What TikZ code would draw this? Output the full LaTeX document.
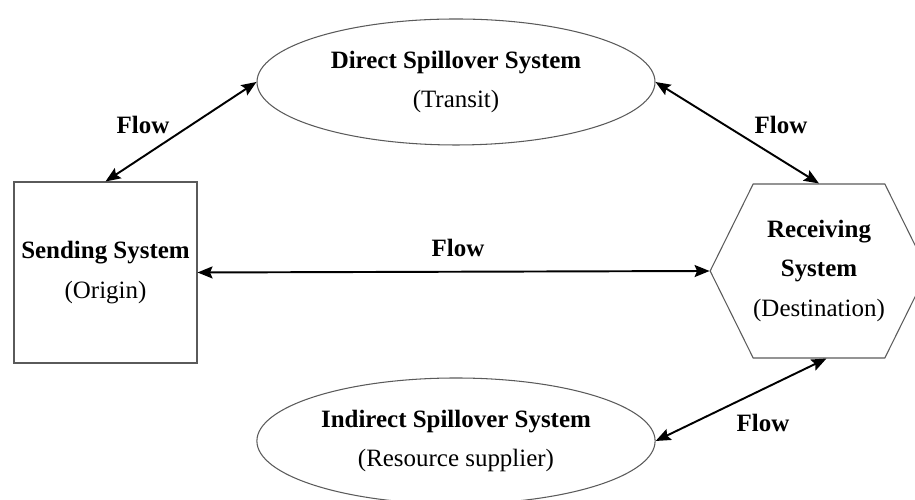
\documentclass[tikz,border=0pt]{standalone}
\usepackage{fontspec}
\setmainfont{Liberation Serif}
\usepackage{tikz}
\usetikzlibrary{shapes.geometric, shapes.symbols, arrows, arrows.meta, positioning}
\definecolor{edgecolor}{RGB}{90, 90, 90}
\tikzstyle{sysbox} = [rectangle, minimum width=3.66cm, minimum height=3.62cm, align=center, draw=edgecolor, line width=0.6pt, font=\fontsize{14.2}{22.5}\selectfont]
\tikzstyle{spill} = [ellipse, minimum width=7.96cm, minimum height=2.52cm, align=center, draw=edgecolor, line width=0.6pt, font=\fontsize{14.2}{22.5}\selectfont]
\tikzstyle{hexa} = [signal, signal to=east and west, signal pointer angle=127.4, minimum width=4.28cm, minimum height=3.48cm, inner xsep=0pt, align=center, draw=edgecolor, line width=0.6pt, font=\fontsize{14.2}{22.5}\selectfont]
\tikzstyle{flowlabel} = [font=\fontsize{14.2}{16}\selectfont\bfseries]
\tikzstyle{arrow} = [line width=1.1pt,<->,>={Stealth[length=0.3cm,width=0.24cm,inset=0.05cm]}]

\begin{document}
\begin{tikzpicture}
\useasboundingbox (0,0) rectangle (18.3,10);

% Systems
\node (send) [sysbox] at (2.11,4.55) {\textbf{Sending System}\\(Origin)};
\node (direct) [spill] at (9.12,8.36) {\textbf{Direct Spillover System}\\(Transit)};
\node (indirect) [spill] at (9.12,1.18) {\textbf{Indirect Spillover System}\\(Resource supplier)};
\node (recv) [hexa] at (16.38,4.58) {\textbf{Receiving}\\\textbf{System}\\(Destination)};

% Flows
\draw [arrow] (send.north) -- (direct.west);
\draw [arrow] (direct.east) -- (recv.north);
\draw [arrow] (send.east) -- (recv.west);
\draw [arrow] (indirect.east) -- ([xshift=0.15cm]recv.south);

% Labels
\node (f1) [flowlabel] at (2.86,7.5) {Flow};
\node (f2) [flowlabel] at (15.62,7.5) {Flow};
\node (f3) [flowlabel] at (9.16,5.04) {Flow};
\node (f4) [flowlabel] at (15.26,1.54) {Flow};

\end{tikzpicture}
\end{document}
